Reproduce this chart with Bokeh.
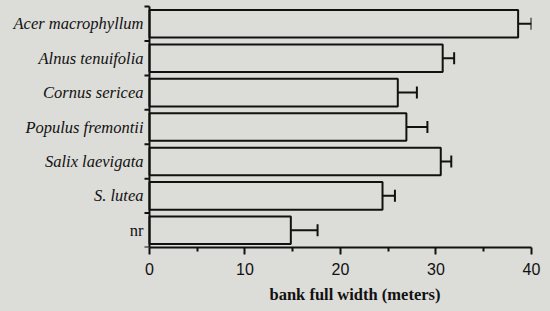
from math import pi
from bokeh.plotting import figure
from bokeh.models import ColumnDataSource, FixedTicker, Whisker, TeeHead, Title, Range1d
from bokeh.core.properties import value
from bokeh.embed import file_html
from bokeh.resources import INLINE

species = ["Acer macrophyllum", "Alnus tenuifolia", "Cornus sericea",
           "Populus fremontii", "Salix laevigata", "S. lutea", "nr"]
italic = [True, True, True, True, True, True, False]
width_m = [38.6, 30.7, 26.0, 26.9, 30.5, 24.4, 14.8]
err_m = [1.4, 1.2, 2.0, 2.2, 1.1, 1.3, 2.8]
x_ticks = [0, 10, 20, 30, 40]
x_minor = [5, 15, 25, 35]

n = len(species)
ypos = [n - 1 - i for i in range(n)]
upper = [w + e for w, e in zip(width_m, err_m)]
src = ColumnDataSource(dict(y=ypos, w=width_m, up=upper, name=species))
src_it = ColumnDataSource(dict(y=[y for y, it in zip(ypos, italic) if it],
                               name=[s for s, it in zip(species, italic) if it]))
src_up = ColumnDataSource(dict(y=[y for y, it in zip(ypos, italic) if not it],
                               name=[s for s, it in zip(species, italic) if not it]))
bounds = [v - 0.5 for v in ypos] + [n - 0.5]

BG = "#dcdcd8"
INK = "#111111"
p = figure(frame_width=531, frame_height=243, output_backend="svg", toolbar_location=None,
           x_range=Range1d(-15.6, 40), y_range=Range1d(-0.5, 6.56),
           min_border_left=0, min_border_right=19, min_border_top=4, min_border_bottom=0)
p.background_fill_color = BG
p.border_fill_color = BG
p.outline_line_color = None
p.grid.visible = False
p.yaxis.visible = False

p.hbar(y="y", left=0, right="w", height=0.8, source=src,
       fill_color=BG, line_color=INK, line_width=2)

wh = Whisker(source=src, base="y", lower="w", upper="up", dimension="width",
             line_color=INK, line_width=2,
             lower_head=None, upper_head=TeeHead(size=12, line_width=2, line_color=INK))
p.add_layout(wh)

# manual y axis at x = 0
p.segment(x0=0, y0=min(bounds), x1=0, y1=max(bounds), line_color=INK, line_width=2)
p.ray(x=[0] * len(bounds), y=bounds, length=5, length_units="screen", angle=pi,
      line_color=INK, line_width=2)

p.text(x=0, y="y", text="name", source=src_it, x_offset=-6,
       text_align="right", text_baseline="middle",
       text_font=value("Liberation Serif"), text_font_style="italic",
       text_font_size="16.5px", text_color=INK)
p.text(x=0, y="y", text="name", source=src_up, x_offset=-6,
       text_align="right", text_baseline="middle",
       text_font=value("Liberation Serif"), text_font_style="normal",
       text_font_size="16.5px", text_color=INK)

# x axis
xa = p.xaxis[0]
xa.bounds = (0, 40)
xa.ticker = FixedTicker(ticks=x_ticks, minor_ticks=x_minor)
xa.axis_line_width = 2
xa.axis_line_color = INK
xa.major_tick_line_width = 2
xa.minor_tick_line_width = 2
xa.major_tick_line_color = INK
xa.minor_tick_line_color = INK
xa.major_tick_in = 0
xa.major_tick_out = 7
xa.minor_tick_in = 0
xa.minor_tick_out = 4
xa.major_label_text_font = "Liberation Sans"
xa.major_label_text_font_size = "16px"
xa.major_label_text_color = INK
xa.major_label_standoff = 8

p.add_layout(Title(text="bank full width (meters)", align="left", offset=269,
                   text_font="Liberation Serif", text_font_style="bold",
                   text_font_size="16.5px", text_color=INK, standoff=11), "below")

html = file_html(p, INLINE)
html = html.replace("</head>", "<style>html,body{background:%s;}</style></head>" % BG, 1)
open("out.html", "w").write(html)
